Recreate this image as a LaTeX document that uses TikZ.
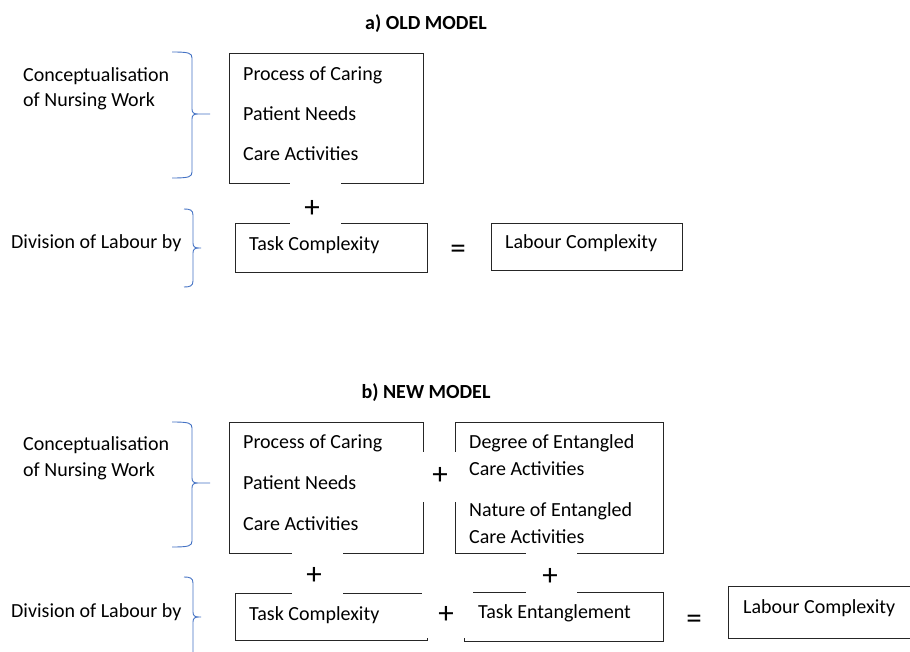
\documentclass[tikz,border=0pt]{standalone}
\usepackage{fontspec}
\setmainfont{Carlito}
\definecolor{bracecol}{HTML}{4472C4}
\definecolor{linecol}{HTML}{262626}
\newcommand\drawbrace[6]{\draw[brace] (#1,#4) .. controls ({#2-3},#4) and (#2,{#4+1}) .. (#2,{#4+6}) -- (#2,{#5-5}) .. controls (#2,{#5-1}) and ({#2+2},#5) .. ({#2+6},#5) -- (#3,#5) ({#2+6},#5) .. controls ({#2+2},#5) and (#2,{#5+1}) .. (#2,{#5+5}) -- (#2,{#6-6}) .. controls (#2,{#6-1}) and ({#2-3},#6) .. (#1,#6);}
\begin{document}
\begin{tikzpicture}[x=1pt,y=-1pt,
  box/.style={draw=linecol, line width=0.9pt, rectangle, inner sep=0},
  gap/.style={fill=white, draw=none, rectangle, inner sep=0},
  txt/.style={anchor=base west, inner sep=0, font=\fontsize{20}{24}\selectfont, text=black},
  ttl/.style={anchor=base, inner sep=0, font=\fontsize{20}{24}\selectfont\bfseries, text=black},
  op/.style={inner sep=0, font=\fontsize{31}{33}\selectfont, text=black},
  brace/.style={draw=bracecol, line width=0.9pt}]
\useasboundingbox (0,0) rectangle (910,652);
\fill[white] (0,0) rectangle (910,652);

% ---------- a) OLD MODEL ----------
\node[ttl] (titleA) at (426,30) {a)\ OLD MODEL};
\drawbrace{172}{192}{210}{52}{114}{178}
\drawbrace{184}{193}{201}{209}{248}{287}
\node[txt] (concA1) at (23,82) {Conceptualisation};
\node[txt] (concA2) at (23,107) {of Nursing Work};
\node[txt] (divA) at (11,249) {Division of Labour by};

\node[box, minimum width=194, minimum height=130] (boxA) at (326,118) {};
\node[box, minimum width=192, minimum height=49] (taskA) at (331,247.5) {};
\node[box, minimum width=191, minimum height=47] (labA) at (586.5,246.5) {};
\node[gap, minimum width=51, minimum height=50] (gapA) at (315.5,203) {};

\node[txt] (pA1) at (243,81) {Process of Caring};
\node[txt] (pA2) at (243,121) {Patient Needs};
\node[txt] (pA3) at (243,161) {Care Activities};
\node[txt] (tA) at (249,251) {Task Complexity};
\node[txt] (lA) at (505,249) {Labour Complexity};
\node[op] (plusA) at (312,209) {+};
\node[op] (eqA) at (458,252) {=};

% ---------- b) NEW MODEL ----------
\node[ttl] (titleB) at (426,398) {b)\ NEW MODEL};
\drawbrace{172}{192}{210}{422}{483}{547}
\drawbrace{184}{193}{201}{577}{617}{680}
\node[txt] (concB1) at (23,450) {Conceptualisation};
\node[txt] (concB2) at (23,476) {of Nursing Work};
\node[txt] (divB) at (11,617) {Division of Labour by};

\node[box, minimum width=194, minimum height=131] (boxB1) at (326,487.5) {};
\node[box, minimum width=208, minimum height=131] (boxB2) at (559,487.5) {};
\node[box, minimum width=192, minimum height=47] (taskB) at (331,616.5) {};
\node[box, minimum width=199, minimum height=49] (entB) at (563.5,616.5) {};
\node[box, minimum width=202, minimum height=52] (labB) at (829,612) {};
\node[gap, minimum width=46, minimum height=50] (gapB1) at (439,477) {};
\node[gap, minimum width=51, minimum height=50] (gapB2) at (317.5,573) {};
\node[gap, minimum width=51, minimum height=49] (gapB3) at (551.5,572.5) {};
\node[gap, minimum width=51, minimum height=53] (gapB4) at (447.5,611.5) {};

\node[txt] (pB1) at (243,448) {Process of Caring};
\node[txt] (pB2) at (243,489) {Patient Needs};
\node[txt] (pB3) at (243,530) {Care Activities};
\node[txt] (eB1) at (469,448) {Degree of Entangled};
\node[txt] (eB2) at (469,475) {Care Activities};
\node[txt] (eB3) at (469,516) {Nature of Entangled};
\node[txt] (eB4) at (469,543) {Care Activities};
\node[txt] (tB) at (249,620) {Task Complexity};
\node[txt] (teB) at (478,618) {Task Entanglement};
\node[txt] (lB) at (743,613) {Labour Complexity};
\node[op] (plusB1) at (440,476) {+};
\node[op] (plusB2) at (314,576) {+};
\node[op] (plusB3) at (550,577) {+};
\node[op] (plusB4) at (446,615) {+};
\node[op] (eqB) at (694,622) {=};
\end{tikzpicture}
\end{document}
